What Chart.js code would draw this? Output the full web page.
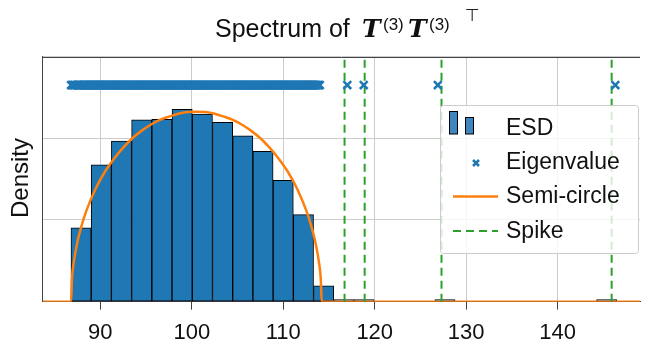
<!DOCTYPE html>
<html>
<head>
<meta charset="utf-8">
<script src="https://cdn.jsdelivr.net/npm/chart.js@4.4.1/dist/chart.umd.min.js"></script>
<style>
  html, body { margin: 0; padding: 0; background: #fff; }
  #wrap { width: 648px; height: 343px; }
</style>
</head>
<body>
<div id="wrap"><canvas id="spectrumChart" width="648" height="343"></canvas></div>
<script>
// histogram bins (centres, width 2.21) and their density
const binCenters = [87.895, 90.105, 92.315, 94.525, 96.735, 98.945, 101.155, 103.365, 105.575,
    107.785, 109.995, 112.205, 114.415, 116.625, 118.835, 121.045, 123.255, 125.465, 127.675,
    129.885, 132.095, 134.305, 136.515, 138.725, 140.935, 143.145, 145.355];
const binDensity = [0.0181, 0.0335, 0.0393, 0.0445, 0.0446, 0.0471, 0.0459, 0.0439, 0.0406,
    0.0368, 0.0297, 0.0213, 0.0039, 0.0005, 0.0005, 0, 0, 0, 0.0005,
    0, 0, 0, 0, 0, 0, 0, 0.0005];

// eigenvalues: the dense bulk plus the four outliers
const eigenvalues = [
    86.8, 86.95, 87.1, 87.2, 87.35, 87.5, 87.6, 87.7, 87.85, 88.0,
    88.1, 88.2, 88.3, 88.4, 88.5, 88.6, 88.7, 88.8, 88.9, 89.0,
    89.1, 89.2, 89.3, 89.4, 89.5, 89.6, 89.7, 89.8, 89.9, 90.0,
    90.1, 90.2, 90.3, 90.4, 90.5, 90.6, 90.7, 90.8, 90.9, 91.0,
    91.1, 91.2, 91.3, 91.4, 91.5, 91.6, 91.7, 91.8, 91.9, 92.0,
    92.1, 92.2, 92.3, 92.4, 92.5, 92.6, 92.7, 92.8, 92.9, 93.0,
    93.1, 93.2, 93.3, 93.4, 93.5, 93.6, 93.7, 93.8, 93.9, 94.0,
    94.1, 94.2, 94.3, 94.4, 94.5, 94.6, 94.7, 94.8, 94.9, 95.0,
    95.1, 95.2, 95.3, 95.4, 95.5, 95.6, 95.7, 95.8, 95.9, 96.0,
    96.1, 96.2, 96.3, 96.4, 96.5, 96.6, 96.7, 96.8, 96.9, 97.0,
    97.1, 97.2, 97.3, 97.4, 97.5, 97.6, 97.7, 97.8, 97.9, 98.0,
    98.1, 98.2, 98.3, 98.4, 98.5, 98.6, 98.7, 98.8, 98.9, 99.0,
    99.1, 99.2, 99.3, 99.4, 99.5, 99.6, 99.7, 99.8, 99.9, 100.0,
    100.1, 100.2, 100.3, 100.4, 100.5, 100.6, 100.7, 100.8, 100.9, 101.0,
    101.1, 101.2, 101.3, 101.4, 101.5, 101.6, 101.7, 101.8, 101.9, 102.0,
    102.1, 102.2, 102.3, 102.4, 102.5, 102.6, 102.7, 102.8, 102.9, 103.0,
    103.1, 103.2, 103.3, 103.4, 103.5, 103.6, 103.7, 103.8, 103.9, 104.0,
    104.1, 104.2, 104.3, 104.4, 104.5, 104.6, 104.7, 104.8, 104.9, 105.0,
    105.1, 105.2, 105.3, 105.4, 105.5, 105.6, 105.7, 105.8, 105.9, 106.0,
    106.1, 106.2, 106.3, 106.4, 106.5, 106.6, 106.7, 106.8, 106.9, 107.0,
    107.1, 107.2, 107.3, 107.4, 107.5, 107.6, 107.7, 107.8, 107.9, 108.0,
    108.1, 108.2, 108.3, 108.4, 108.5, 108.6, 108.7, 108.8, 108.9, 109.0,
    109.1, 109.2, 109.3, 109.4, 109.5, 109.6, 109.7, 109.8, 109.9, 110.0,
    110.1, 110.2, 110.3, 110.4, 110.5, 110.6, 110.7, 110.8, 110.9, 111.0,
    111.1, 111.2, 111.3, 111.4, 111.5, 111.6, 111.7, 111.8, 111.9, 112.0,
    112.1, 112.2, 112.3, 112.4, 112.5, 112.6, 112.7, 112.8, 112.9, 113.0,
    113.1, 113.2, 113.3, 113.4, 113.5, 113.6, 113.7, 113.85, 114.0,
    117.0, 118.8, 126.9, 146.3];
const eigenLevel = 0.053;

const spikes = [116.7, 118.9, 127.3, 145.9];

// semi-circle law curve
const semiX = [83.7, 86.8, 86.9, 87.1, 87.5, 88.0, 88.5, 89.5, 90.5, 91.5, 92.5, 93.5, 94.5, 95.5,
    96.5, 97.5, 98.5, 99.5, 100.5, 101.5, 102.5, 103.5, 104.5, 105.5, 106.5, 107.5, 108.5, 109.5,
    110.5, 111.5, 112.5, 113.0, 113.5, 113.9, 114.1, 114.2, 149.0];
const semiY = [0, 0, 0.0056, 0.0097, 0.0147, 0.0190, 0.0224, 0.0277, 0.0318, 0.0350, 0.0377, 0.0400,
    0.0418, 0.0433, 0.0445, 0.0453, 0.0460, 0.0464, 0.0465, 0.0464, 0.0460, 0.0453, 0.0445, 0.0433,
    0.0418, 0.0400, 0.0377, 0.0350, 0.0318, 0.0277, 0.0224, 0.0190, 0.0147, 0.0097, 0.0056, 0, 0];

const xTicks = [90, 100, 110, 120, 130, 140];
const yTicks = [0, 0.02, 0.04, 0.06];
const legendLabels = ['ESD', 'Eigenvalue', 'Semi-circle', 'Spike'];

const BLUE = '#1f77b4';
const ORANGE = '#ff7f0e';
const GREEN = '#2ca02c';
const SPINE = '#444444';
const FONT = "'Liberation Sans', Arial, sans-serif";

const decorations = {
    id: 'decorations',
    afterDraw: (chart) => {
        const ctx = chart.ctx;
        const a = chart.chartArea;
        ctx.save();

        // top spine
        ctx.strokeStyle = SPINE;
        ctx.lineWidth = 1;
        ctx.beginPath();
        ctx.moveTo(a.left, Math.round(a.top) + 0.5);
        ctx.lineTo(a.right, Math.round(a.top) + 0.5);
        ctx.stroke();

        // title
        ctx.fillStyle = '#111';
        ctx.textBaseline = 'alphabetic';
        ctx.textAlign = 'left';
        ctx.font = '25px ' + FONT;
        ctx.fillText('Spectrum of', 215, 37);
        ctx.font = "bold italic 25px 'DejaVu Serif', serif";
        ctx.fillText('T', 362, 37);
        ctx.fillText('T', 408, 37);
        ctx.font = '17px ' + FONT;
        ctx.fillText('(3)', 383, 30);
        ctx.fillText('(3)', 429, 30);
        ctx.fillStyle = '#222';
        ctx.font = "17px 'DejaVu Sans', sans-serif";
        ctx.fillText('\u22a4', 465, 21);
        ctx.fillStyle = '#111';

        // y label
        ctx.save();
        ctx.translate(28, 178);
        ctx.rotate(-Math.PI / 2);
        ctx.textAlign = 'center';
        ctx.font = '24px ' + FONT;
        ctx.fillText('Density', 0, 0);
        ctx.restore();

        // legend
        const lx = 440.5, ly = 105.5, lw = 198, lh = 148;
        ctx.beginPath();
        ctx.roundRect(lx, ly, lw, lh, 3);
        ctx.fillStyle = 'rgba(255,255,255,0.8)';
        ctx.fill();
        ctx.strokeStyle = '#cccccc';
        ctx.stroke();

        const rows = [135, 169, 203, 237.5];
        // ESD handle
        ctx.fillStyle = '#3d87c0';
        ctx.strokeStyle = '#000';
        ctx.lineWidth = 1;
        ctx.fillRect(449.5, 111.5, 8, 22.5);
        ctx.strokeRect(449.5, 111.5, 8, 22.5);
        ctx.fillRect(465.5, 117.5, 8, 16.5);
        ctx.strokeRect(465.5, 117.5, 8, 16.5);
        // Eigenvalue handle
        ctx.strokeStyle = BLUE;
        ctx.lineWidth = 2.5;
        ctx.beginPath();
        ctx.moveTo(473, 160); ctx.lineTo(479, 166);
        ctx.moveTo(479, 160); ctx.lineTo(473, 166);
        ctx.stroke();
        // Semi-circle handle
        ctx.strokeStyle = ORANGE;
        ctx.lineWidth = 2.5;
        ctx.beginPath();
        ctx.moveTo(453, 196.5); ctx.lineTo(498, 196.5);
        ctx.stroke();
        // Spike handle
        ctx.strokeStyle = GREEN;
        ctx.lineWidth = 2;
        ctx.setLineDash([8, 5]);
        ctx.beginPath();
        ctx.moveTo(453, 231); ctx.lineTo(498, 231);
        ctx.stroke();
        ctx.setLineDash([]);

        ctx.fillStyle = '#111';
        ctx.font = '23px ' + FONT;
        legendLabels.forEach((label, i) => ctx.fillText(label, 506, rows[i]));

        ctx.restore();
    }
};

const ctx = document.getElementById('spectrumChart').getContext('2d');

// first dataset is drawn on top, the histogram last in the list sits underneath
new Chart(ctx, {
    type: 'bar',
    data: {
        datasets: [
            {
                type: 'scatter',
                data: eigenvalues.map(v => ({ x: v, y: eigenLevel })),
                pointStyle: 'crossRot',
                pointRadius: 5.5,
                pointBorderWidth: 2.5,
                pointBorderColor: BLUE,
                borderColor: BLUE,
                backgroundColor: BLUE,
                showLine: false
            },
            ...spikes.map(s => ({
                type: 'line',
                data: [{ x: s, y: 0 }, { x: s, y: 0.06 }],
                borderColor: GREEN,
                borderWidth: 2,
                borderDash: [8, 5],
                pointRadius: 0,
                fill: false
            })),
            {
                type: 'line',
                data: semiX.map((x, i) => ({ x: x, y: semiY[i] })),
                borderColor: ORANGE,
                borderWidth: 2.5,
                pointRadius: 0,
                cubicInterpolationMode: 'monotone',
                fill: false
            },
            {
                type: 'bar',
                data: binCenters.map((c, i) => ({ x: c, y: binDensity[i] })),
                backgroundColor: BLUE,
                borderColor: '#000',
                borderWidth: 1,
                borderSkipped: false,
                barPercentage: 1,
                categoryPercentage: 1
            }
        ]
    },
    options: {
        responsive: false,
        animation: false,
        devicePixelRatio: 1,
        events: [],
        layout: { padding: { top: 56.5, left: 0, right: 0, bottom: 0 } },
        plugins: {
            legend: { display: false },
            title: { display: false },
            tooltip: { enabled: false }
        },
        scales: {
            x: {
                type: 'linear',
                min: 83.7,
                max: 149.0,
                offset: false,
                afterBuildTicks: (scale) => { scale.ticks = xTicks.map(v => ({ value: v })); },
                afterFit: (scale) => { scale.height = 41.3; },
                grid: {
                    offset: false,
                    color: '#cccccc',
                    lineWidth: 1,
                    drawTicks: true,
                    tickLength: 8,
                    tickColor: SPINE,
                    tickWidth: 1
                },
                border: { display: true, color: SPINE, width: 1 },
                ticks: {
                    color: '#111',
                    padding: 10,
                    maxRotation: 0,
                    font: { family: FONT, size: 22 },
                    callback: (v) => v
                }
            },
            y: {
                type: 'linear',
                min: 0,
                max: 0.06,
                afterBuildTicks: (scale) => { scale.ticks = yTicks.map(v => ({ value: v })); },
                afterFit: (scale) => { scale.width = 42.7; },
                grid: {
                    color: '#cccccc',
                    lineWidth: 1,
                    drawTicks: false
                },
                border: { display: true, color: SPINE, width: 1 },
                ticks: { display: false }
            }
        }
    },
    plugins: [decorations]
});
</script>
</body>
</html>
